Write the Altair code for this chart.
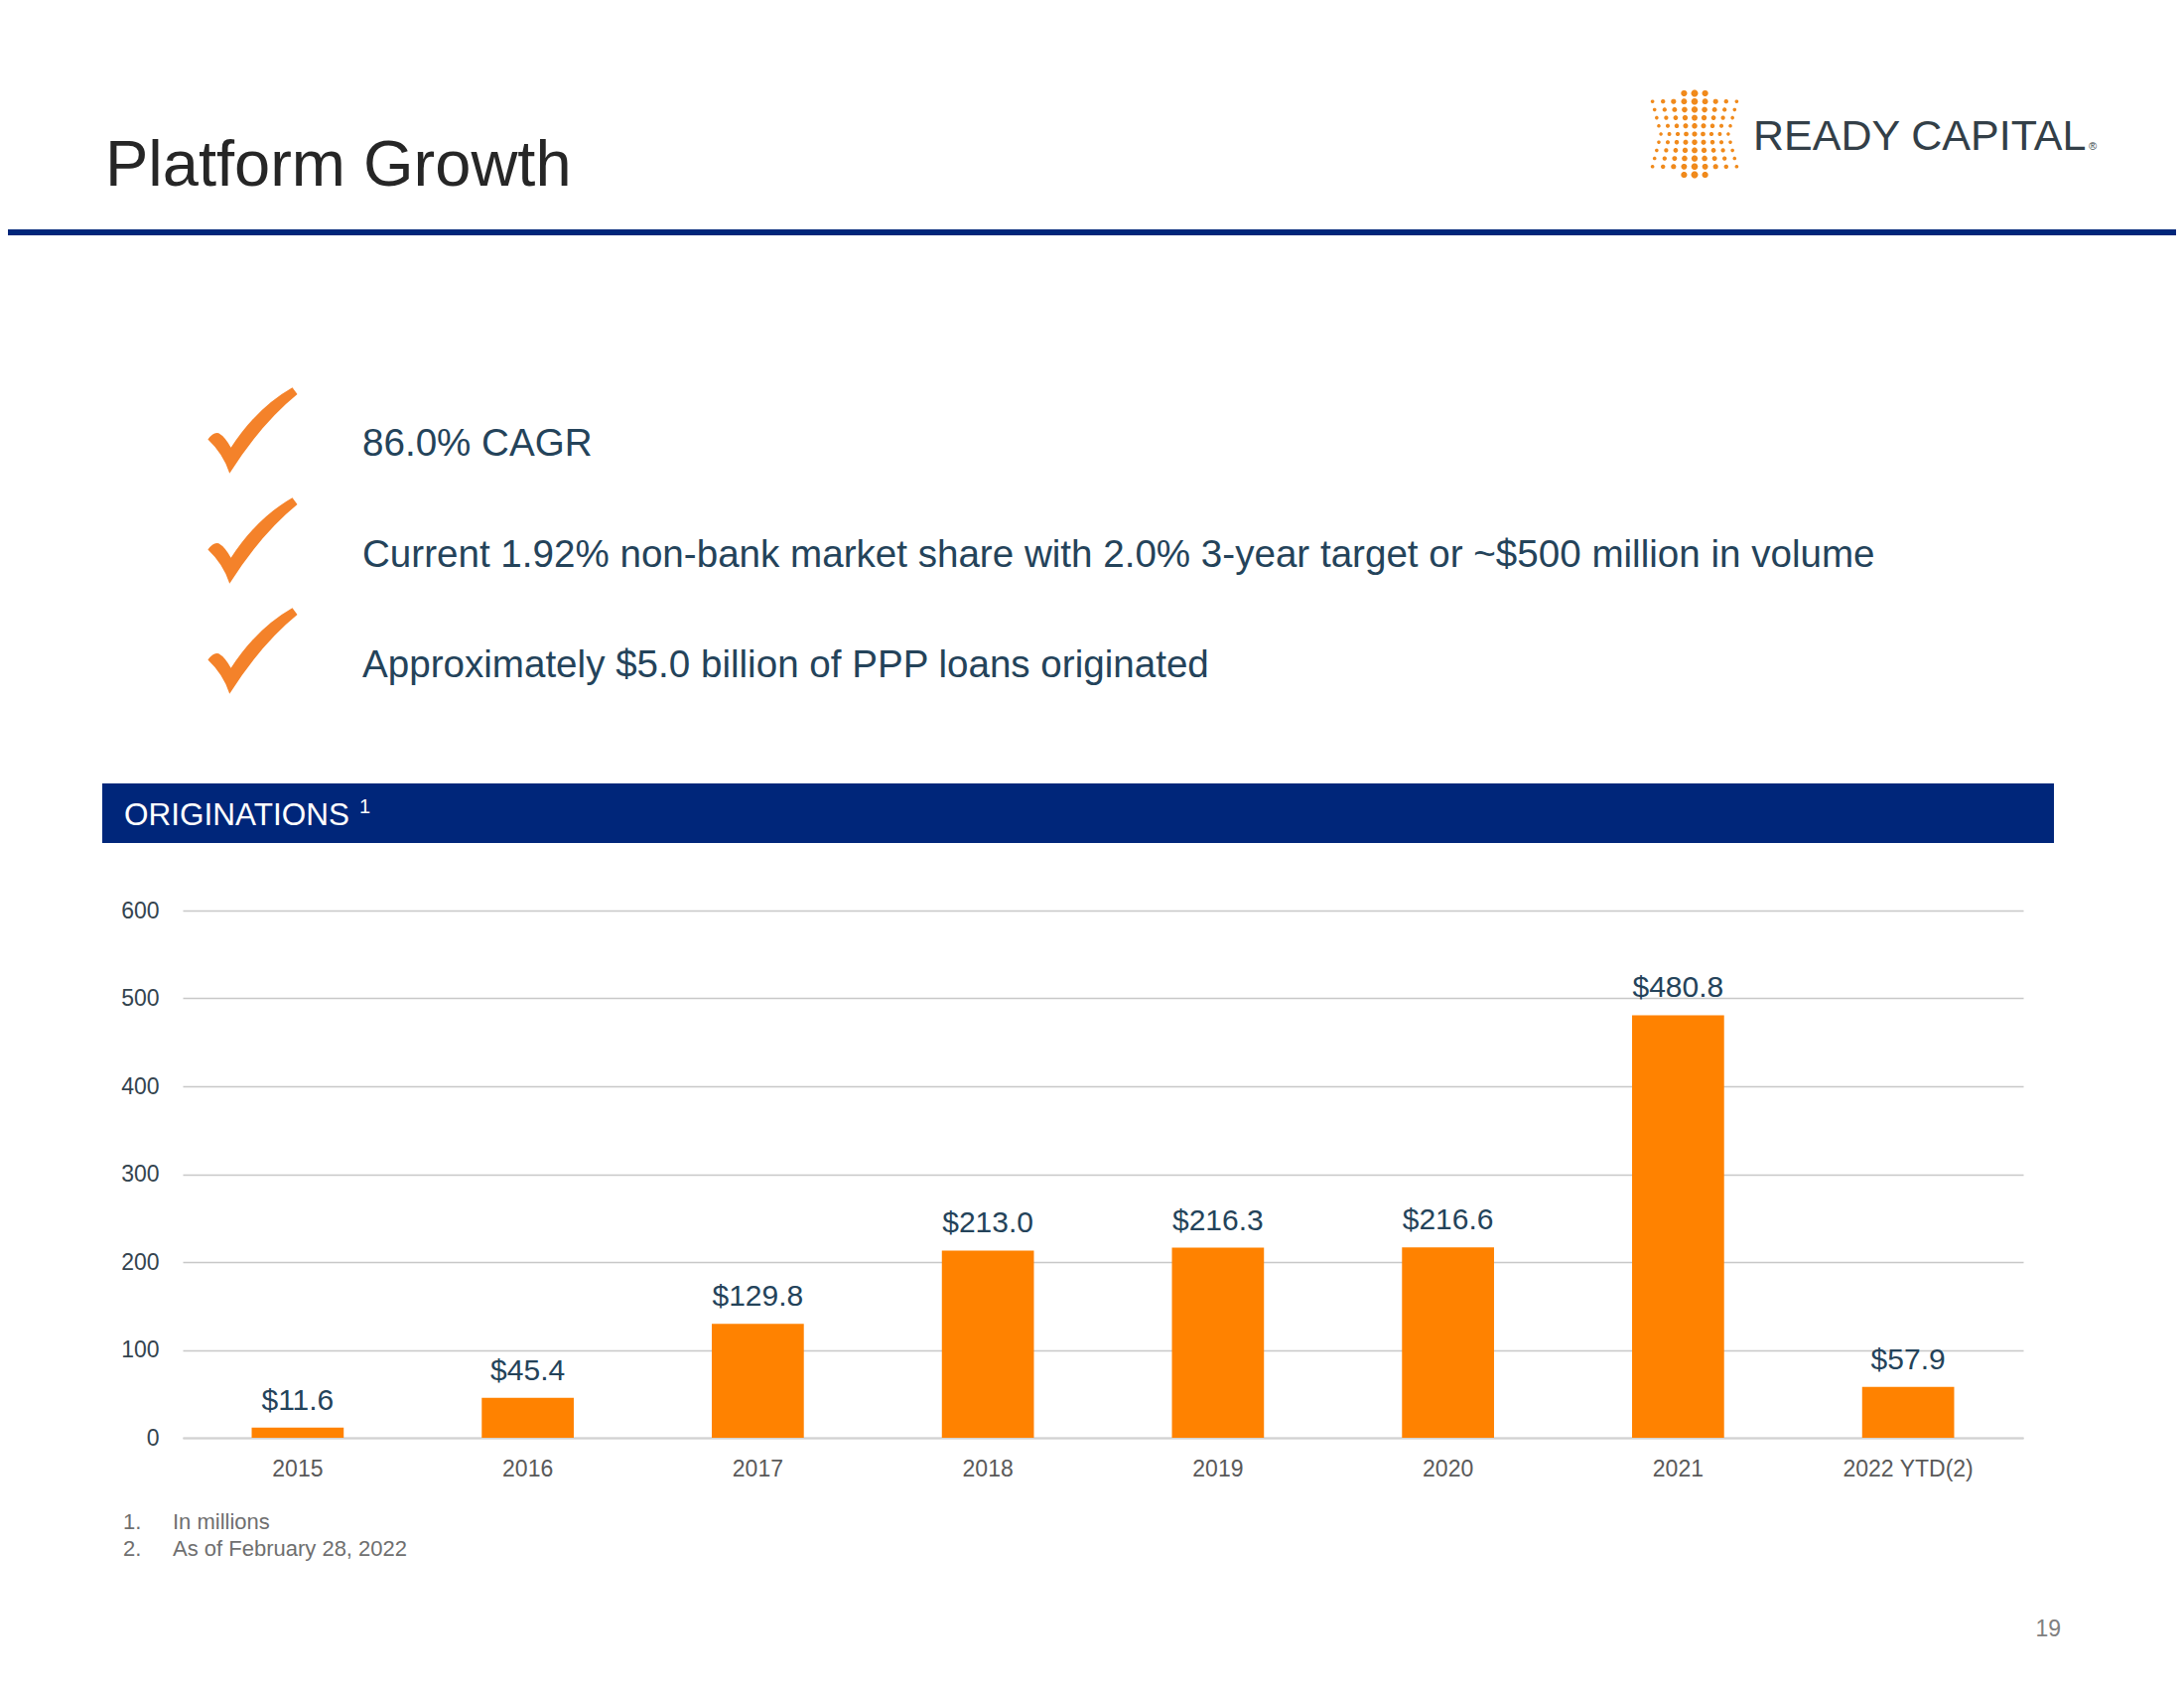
import math
import altair as alt
import pandas as pd

# ---------------- data ----------------
years = ["2015", "2016", "2017", "2018", "2019", "2020", "2021", "2022 YTD(2)"]
values = [11.6, 45.4, 129.8, 213.0, 216.3, 216.6, 480.8, 57.9]
y_ticks = [0, 100, 200, 300, 400, 500, 600]

title_text = "Platform Growth"
bullets = [
    "86.0% CAGR",
    "Current 1.92% non-bank market share with 2.0% 3-year target or ~$500 million in volume",
    "Approximately $5.0 billion of PPP loans originated",
]
section_title = "ORIGINATIONS"
footnote_nums = ["1.", "2."]
footnotes = ["In millions", "As of February 28, 2022"]
page_number = "19"
logo_text = "READY CAPITAL"

# ---------------- style ----------------
FONT = "Liberation Sans"
ORANGE = "#FF8200"
CHECK = "#F4822A"
NAVY = "#00267A"
SLATE = "#24435A"

# plot origin in page-image pixels
OX, OY = 184, 917
W, H = 1854, 531

df = pd.DataFrame({"year": years, "value": values})
df["label"] = ["$" + f"{v:.1f}" for v in values]

x_enc = alt.X(
    "year:N", sort=years,
    scale=alt.Scale(paddingInner=0.6, paddingOuter=0.3),
    axis=alt.Axis(title=None, labelAngle=0, labelFont=FONT, labelFontSize=23,
                  labelColor="#595959", labelPadding=20, ticks=False, tickSize=0,
                  domain=True, domainColor="#D2D2D2", domainWidth=2, grid=False),
)
y_enc = alt.Y(
    "value:Q",
    scale=alt.Scale(domain=[0, 600], nice=False),
    axis=alt.Axis(title=None, values=y_ticks, labelFont=FONT, labelFontSize=23,
                  labelColor="#34444F", labelPadding=24, ticks=False, tickSize=0,
                  domain=False, grid=True, gridColor="#C8C8C8", gridWidth=1.5),
)

bars = alt.Chart(df).mark_bar(color=ORANGE).encode(x=x_enc, y=y_enc)
bar_labels = alt.Chart(df).mark_text(
    font=FONT, fontSize=30, color=SLATE, baseline="alphabetic", dy=-18
).encode(x=x_enc, y=y_enc, text="label:N")


def txt(s, X, Y, size, color, align="left", font=FONT, weight="normal"):
    return alt.Chart(pd.DataFrame({"t": [s]})).mark_text(
        font=font, fontSize=size, color=color, align=align,
        baseline="alphabetic", fontWeight=weight,
    ).encode(x=alt.value(X - OX), y=alt.value(Y - OY), text="t:N")


def rect(X1, Y1, X2, Y2, color):
    return alt.Chart(pd.DataFrame({"a": [0]})).mark_rect(color=color).encode(
        x=alt.value(X1 - OX), x2=alt.value(X2 - OX),
        y=alt.value(Y1 - OY), y2=alt.value(Y2 - OY),
    )


def symbol(path, X, Y, size, color):
    return alt.Chart(pd.DataFrame({"a": [0]})).mark_point(
        shape=path, size=size, filled=True, fill=color, strokeWidth=0, opacity=1
    ).encode(x=alt.value(X - OX), y=alt.value(Y - OY))


# checkmark shape (unit square)
check_path = ("M -0.98 0.2 Q -0.86 0.02 -0.74 0.06 Q -0.6 0.14 -0.47 0.38 "
              "Q 0.1 -0.5 0.89 -0.95 L 1 -0.8 Q 0.2 -0.15 -0.5 0.95 "
              "Q -0.64 0.52 -0.98 0.2 Z")


# logo dot pattern as a single path
def poly(cx, cy, r, n=10):
    pts = [(cx + r * math.cos(2 * math.pi * k / n), cy + r * math.sin(2 * math.pi * k / n))
           for k in range(n)]
    return "M " + " L ".join(f"{px:.3f} {py:.3f}" for px, py in pts) + " Z"


R = 45.0
parts = []
for k in range(-5, 6):
    yy = 8.2 * k
    if abs(k) == 5:
        cols = [-1, 0, 1]
    else:
        cols = list(range(-4, 5))
    w = 0.80 + 0.20 * (abs(k) / 4.0) if abs(k) < 5 else 1.0
    for c in cols:
        xx = c * 10.6 * w
        r = 1.7 + 1.9 * (1 - abs(c) / 4.5) * (0.5 + 0.5 * abs(k) / 5.0)
        parts.append(poly(xx / R, yy / R, r / R))
logo_path = " ".join(parts)

layers = [
    rect(0, 231, 2200, 237, NAVY),
    txt(title_text, 106, 187, 65, "#262626"),
    symbol(logo_path, 1707, 135, (2 * R) ** 2, "#F08A1C"),
    txt(logo_text, 1766, 151, 43, "#333F48"),
    txt("\u00ae", 2104, 151, 11, "#333F48"),
]
for i, b in enumerate(bullets):
    layers.append(symbol(check_path, 254, 433.5 + 111 * i, 8281, CHECK))
    layers.append(txt(b, 365, 459 + 111.5 * i, 38.6, SLATE))

layers += [
    rect(103, 789, 2069, 849, NAVY),
    txt(section_title, 125, 831, 31.5, "#FFFFFF"),
    txt("1", 362, 819, 20, "#FFFFFF"),
    bars,
    bar_labels,
]
for i, (n, f) in enumerate(zip(footnote_nums, footnotes)):
    layers.append(txt(n, 124, 1540 + 27 * i, 22, "#6F6F6F"))
    layers.append(txt(f, 174, 1540 + 27 * i, 22, "#6F6F6F"))
layers.append(txt(page_number, 2076, 1648, 23, "#808080", align="right"))

chart = alt.layer(*layers).properties(
    width=W, height=H,
    autosize=alt.AutoSizeParams(type="none"),
    padding={"left": OX - 8, "top": OY - 8, "right": 2184 - (OX - 8) - W,
             "bottom": 1684 - (OY - 8) - H},
    background="#FFFFFF",
).configure_view(stroke=None)

chart.save("out.html", embed_options={"renderer": "svg", "actions": False})
